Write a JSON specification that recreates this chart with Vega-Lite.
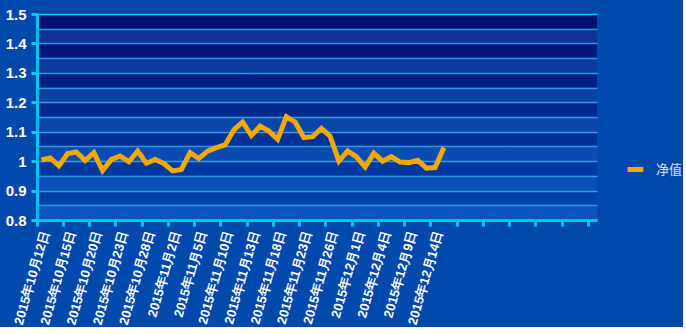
{
  "$schema": "https://vega.github.io/schema/vega-lite/v6.json",
  "width": 560,
  "height": 206,
  "padding": {"left": 5, "top": 7, "right": 0, "bottom": 0},
  "background": "#0048ac",
  "config": {
    "view": {
      "stroke": null,
      "fill": {
        "gradient": "linear",
        "x1": 0, "y1": -0.073, "x2": 0, "y2": 1.549,
        "stops": [
          {"offset": 0, "color": "#000a68"},
          {"offset": 0.5, "color": "#0038a0"},
          {"offset": 1, "color": "#0062c4"}
        ]
      }
    },
    "font": "Liberation Sans",
    "axisY": {
      "title": null,
      "format": "~g",
      "labelExpr": "abs(round(datum.value * 10) - datum.value * 10) < 0.01 ? datum.label : ''",
      "labelFontSize": 15,
      "labelFontWeight": "bold",
      "labelColor": "#ffffff",
      "labelPadding": 5,
      "labelOverlap": false,
      "labelFlush": false,
      "domainColor": "#00c8f0",
      "domainWidth": 3,
      "tickColor": {"condition": {"test": "abs(round(datum.value * 10) - datum.value * 10) < 0.01", "value": "#00c8f0"}, "value": "transparent"},
      "tickWidth": 3,
      "tickSize": 6,
      "grid": true,
      "gridColor": {"condition": {"test": "datum.value > 1.49", "value": "#00d0f8"}, "value": "#3a9ce0"},
      "gridWidth": 1.5
    }
  },
  "datasets": {
    "nav": [
      {"d": "2015年10月12日", "v": 1.004, "s": "净值"},
      {"d": "2015年10月13日", "v": 1.011, "s": "净值"},
      {"d": "2015年10月14日", "v": 0.984, "s": "净值"},
      {"d": "2015年10月15日", "v": 1.026, "s": "净值"},
      {"d": "2015年10月16日", "v": 1.031, "s": "净值"},
      {"d": "2015年10月19日", "v": 1.002, "s": "净值"},
      {"d": "2015年10月20日", "v": 1.029, "s": "净值"},
      {"d": "2015年10月21日", "v": 0.968, "s": "净值"},
      {"d": "2015年10月22日", "v": 1.006, "s": "净值"},
      {"d": "2015年10月23日", "v": 1.017, "s": "净值"},
      {"d": "2015年10月26日", "v": 0.998, "s": "净值"},
      {"d": "2015年10月27日", "v": 1.034, "s": "净值"},
      {"d": "2015年10月28日", "v": 0.993, "s": "净值"},
      {"d": "2015年10月29日", "v": 1.006, "s": "净值"},
      {"d": "2015年10月30日", "v": 0.992, "s": "净值"},
      {"d": "2015年11月2日", "v": 0.967, "s": "净值"},
      {"d": "2015年11月3日", "v": 0.972, "s": "净值"},
      {"d": "2015年11月4日", "v": 1.029, "s": "净值"},
      {"d": "2015年11月5日", "v": 1.009, "s": "净值"},
      {"d": "2015年11月6日", "v": 1.034, "s": "净值"},
      {"d": "2015年11月9日", "v": 1.046, "s": "净值"},
      {"d": "2015年11月10日", "v": 1.055, "s": "净值"},
      {"d": "2015年11月11日", "v": 1.106, "s": "净值"},
      {"d": "2015年11月12日", "v": 1.133, "s": "净值"},
      {"d": "2015年11月13日", "v": 1.087, "s": "净值"},
      {"d": "2015年11月16日", "v": 1.119, "s": "净值"},
      {"d": "2015年11月17日", "v": 1.102, "s": "净值"},
      {"d": "2015年11月18日", "v": 1.074, "s": "净值"},
      {"d": "2015年11月19日", "v": 1.151, "s": "净值"},
      {"d": "2015年11月20日", "v": 1.133, "s": "净值"},
      {"d": "2015年11月23日", "v": 1.080, "s": "净值"},
      {"d": "2015年11月24日", "v": 1.083, "s": "净值"},
      {"d": "2015年11月25日", "v": 1.111, "s": "净值"},
      {"d": "2015年11月26日", "v": 1.085, "s": "净值"},
      {"d": "2015年11月27日", "v": 1.000, "s": "净值"},
      {"d": "2015年11月30日", "v": 1.034, "s": "净值"},
      {"d": "2015年12月1日", "v": 1.015, "s": "净值"},
      {"d": "2015年12月2日", "v": 0.980, "s": "净值"},
      {"d": "2015年12月3日", "v": 1.027, "s": "净值"},
      {"d": "2015年12月4日", "v": 1.000, "s": "净值"},
      {"d": "2015年12月7日", "v": 1.015, "s": "净值"},
      {"d": "2015年12月8日", "v": 0.997, "s": "净值"},
      {"d": "2015年12月9日", "v": 0.995, "s": "净值"},
      {"d": "2015年12月10日", "v": 1.003, "s": "净值"},
      {"d": "2015年12月11日", "v": 0.976, "s": "净值"},
      {"d": "2015年12月14日", "v": 0.978, "s": "净值"},
      {"d": "2015年12月15日", "v": 1.046, "s": "净值"}
    ],
    "bands": [
      {"lo": 1.40, "hi": 1.45},
      {"lo": 1.30, "hi": 1.35},
      {"lo": 1.20, "hi": 1.25},
      {"lo": 1.10, "hi": 1.15},
      {"lo": 1.00, "hi": 1.05},
      {"lo": 0.90, "hi": 0.95},
      {"lo": 0.80, "hi": 0.85}
    ]
  },
  "layer": [
    {
      "data": {"name": "bands"},
      "mark": {"type": "rect", "fill": "#2080e0", "fillOpacity": 0.3},
      "encoding": {
        "y": {
          "field": "lo",
          "type": "quantitative",
          "scale": {"domain": [0.8, 1.5], "nice": false, "zero": false},
          "axis": {"values": [0.8, 0.85, 0.9, 0.95, 1, 1.05, 1.1, 1.15, 1.2, 1.25, 1.3, 1.35, 1.4, 1.45, 1.5]}
        },
        "y2": {"field": "hi"}
      }
    },
    {
      "data": {"name": "nav"},
      "mark": {"type": "line", "strokeWidth": 5, "strokeJoin": "miter", "strokeCap": "butt"},
      "encoding": {
        "x": {
          "field": "d",
          "type": "nominal",
          "scale": {
            "type": "band",
            "paddingInner": 0,
            "paddingOuter": 0,
            "domain": [
              "2015年10月12日","2015年10月13日","2015年10月14日","2015年10月15日","2015年10月16日",
              "2015年10月19日","2015年10月20日","2015年10月21日","2015年10月22日","2015年10月23日",
              "2015年10月26日","2015年10月27日","2015年10月28日","2015年10月29日","2015年10月30日",
              "2015年11月2日","2015年11月3日","2015年11月4日","2015年11月5日","2015年11月6日",
              "2015年11月9日","2015年11月10日","2015年11月11日","2015年11月12日","2015年11月13日",
              "2015年11月16日","2015年11月17日","2015年11月18日","2015年11月19日","2015年11月20日",
              "2015年11月23日","2015年11月24日","2015年11月25日","2015年11月26日","2015年11月27日",
              "2015年11月30日","2015年12月1日","2015年12月2日","2015年12月3日","2015年12月4日",
              "2015年12月7日","2015年12月8日","2015年12月9日","2015年12月10日","2015年12月11日",
              "2015年12月14日","2015年12月15日","2015年12月16日","2015年12月17日","2015年12月18日",
              "2015年12月21日","2015年12月22日","2015年12月23日","2015年12月24日","2015年12月25日",
              "2015年12月28日","2015年12月29日","2015年12月30日","2015年12月31日","2016年1月4日",
              "2016年1月5日","2016年1月6日","2016年1月7日","2016年1月8日"
            ]
          },
          "axis": {
            "title": null,
            "bandPosition": 0,
            "values": [
              "2015年10月12日","2015年10月15日","2015年10月20日","2015年10月23日","2015年10月28日",
              "2015年11月2日","2015年11月5日","2015年11月10日","2015年11月13日","2015年11月18日",
              "2015年11月23日","2015年11月26日","2015年12月1日","2015年12月4日","2015年12月9日",
              "2015年12月14日","2015年12月17日","2015年12月22日","2015年12月25日","2015年12月30日",
              "2016年1月5日","2016年1月8日"
            ],
            "labelExpr": "indexof(['2015年12月17日','2015年12月22日','2015年12月25日','2015年12月30日','2016年1月5日','2016年1月8日'], datum.value) >= 0 ? '' : datum.label",
            "labelAngle": -74,
            "labelAlign": "right",
            "labelBaseline": "middle",
            "labelOffset": 4,
            "labelPadding": 5,
            "labelFontSize": 13,
            "labelFontWeight": "bold",
            "labelColor": "#ffffff",
            "labelOverlap": false,
            "labelBound": false,
            "domainColor": "#00c8f0",
            "domainWidth": 3,
            "tickColor": "#00c8f0",
            "tickWidth": 3,
            "tickSize": 6,
            "grid": false
          }
        },
        "y": {
          "field": "v",
          "type": "quantitative",
          "scale": {"domain": [0.8, 1.5], "nice": false, "zero": false},
          "axis": {"values": [0.8, 0.85, 0.9, 0.95, 1, 1.05, 1.1, 1.15, 1.2, 1.25, 1.3, 1.35, 1.4, 1.45, 1.5]}
        },
        "color": {
          "field": "s",
          "type": "nominal",
          "scale": {"range": ["#f5a900"]},
          "legend": {
            "title": null,
            "orient": "none",
            "legendX": 588,
            "legendY": 145,
            "symbolType": "stroke",
            "symbolStrokeWidth": 5,
            "symbolSize": 250,
            "labelFont": "Noto Sans CJK SC",
            "labelFontSize": 13,
            "labelColor": "#d8e4f4",
            "labelOffset": 10
          }
        }
      }
    }
  ]
}
